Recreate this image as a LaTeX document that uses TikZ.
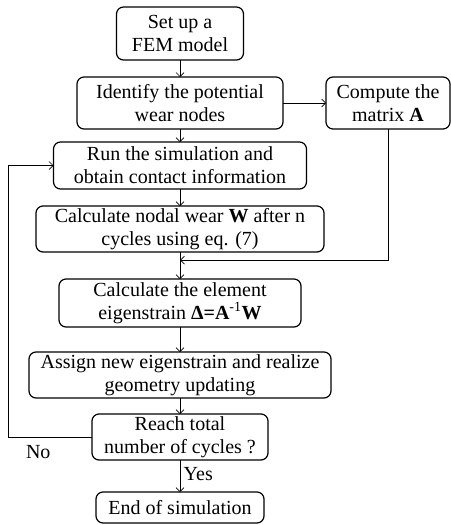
\documentclass[tikz,border=0pt]{standalone}
\usepackage{fontspec}
\setmainfont{Liberation Serif}
\usepackage{tikz}
\usetikzlibrary{arrows.meta,positioning,calc}

\begin{document}
\begin{tikzpicture}[
  x=1pt, y=-1pt,
  font=\fontsize{20}{23}\selectfont,
  box/.style={draw, line width=1.2pt, rounded corners=7pt, align=center, inner xsep=2pt, inner ysep=1pt, outer sep=0pt},
  arr/.style={-{Straight Barb[length=4pt,width=8pt]}, line width=0.7pt}
]
\useasboundingbox (0,0) rectangle (450,525);

\node[box, minimum width=127pt, minimum height=53pt] (setup) at (180,33.5) {Set up a\\FEM model};
\node[box, minimum width=206pt, minimum height=52pt, below=17pt of setup] (ident) {Identify the potential\\wear nodes};
\node[box, minimum width=124pt, minimum height=52pt, right=43pt of ident] (compute) {Compute the\\matrix \textbf{A}};
\node[box, minimum width=253pt, minimum height=47pt, below=13pt of ident] (run) {Run the simulation and\\obtain contact information};
\node[box, minimum width=288pt, minimum height=46pt, below=17pt of run] (nodal) {Calculate nodal wear \textbf{W} after n\\cycles using eq. (7)};
\node[box, minimum width=242pt, minimum height=48pt, below=27pt of nodal] (elem) {Calculate the element\\eigenstrain \textbf{Δ=A}\textsuperscript{-1}\textbf{W}};
\node[box, minimum width=302pt, minimum height=46pt, below=25pt of elem] (assign) {Assign new eigenstrain and realize\\geometry updating};
\node[box, minimum width=176pt, minimum height=46pt, below=16pt of assign] (reach) {Reach total\\number of cycles ?};
\node[box, minimum width=168pt, minimum height=31pt, below=32pt of reach] (endsim) {End of simulation};

\coordinate (join) at ($(nodal.south)!0.3!(elem.north)$);

\draw[arr] (setup) -- (ident);
\draw[arr] (ident) -- (compute);
\draw[arr] (ident) -- (run);
\draw[arr] (run) -- (nodal);
\draw[arr] (nodal) -- (elem);
\draw[arr] (compute.south) |- (join);
\draw[arr] (elem) -- (assign);
\draw[arr] (assign) -- (reach);
\draw[arr] (reach) -- node[right, pos=0.45]{Yes} (endsim);
\draw[arr] (reach.west) -- node[below, pos=0.64, yshift=-5pt]{No} ++(-84,0) |- (run.west);
\end{tikzpicture}
\end{document}
